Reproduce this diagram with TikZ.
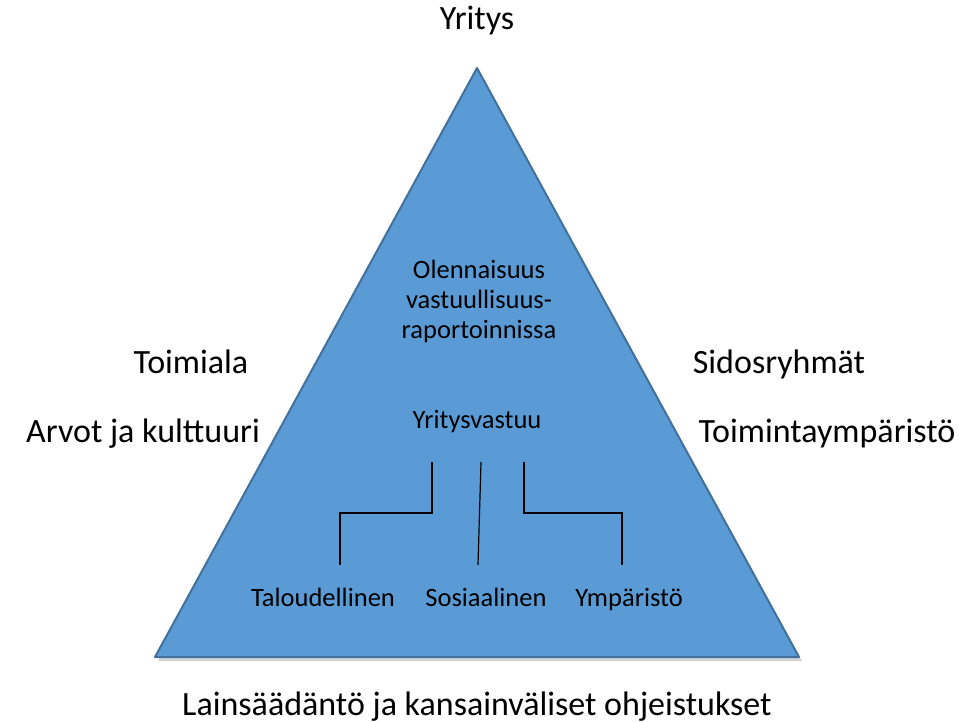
\documentclass[tikz,border=0pt]{standalone}
\usepackage{fontspec}
\setmainfont{Carlito}
\usetikzlibrary{shadows}
\definecolor{tribg}{HTML}{5B9BD5}
\definecolor{triedge}{HTML}{41719C}
\tikzstyle{outer}=[font=\fontsize{34}{40}\selectfont, inner sep=0, anchor=base]
\tikzstyle{inner}=[font=\fontsize{26.5}{30}\selectfont, inner sep=0, align=center]
\tikzstyle{link}=[draw=black, line width=1.2pt]

\begin{document}
\begin{tikzpicture}[x=1pt, y=-1pt]
\useasboundingbox (0,0) rectangle (959,722);
\filldraw[fill=tribg, draw=triedge, line width=2pt, line join=round,
  drop shadow={shadow xshift=3pt, shadow yshift=-4pt, opacity=0.35}]
  (477,68) -- (799,657) -- (155,657) -- cycle;
% labels round the triangle
\node[outer] (top) at (477,30) {Yritys};
\node[outer] (ala) at (191,373) {Toimiala};
\node[outer] (arvot) at (143,442) {Arvot ja kulttuuri};
\node[outer] (sidos) at (779,373) {Sidosryhmät};
\node[outer] (ymp) at (827,442) {Toimintaympäristö};
\node[outer] (laki) at (477,715) {Lainsäädäntö ja kansainväliset ohjeistukset};
% inside
\node[inner] (olen) at (479,301) {Olennaisuus\\vastuullisuus-\\raportoinnissa};
\node[inner, anchor=base] (vastuu) at (477,428) {Yritysvastuu};
\node[inner, anchor=base] (B1) at (323,606) {Taloudellinen};
\node[inner, anchor=base] (B2) at (486,606) {Sosiaalinen};
\node[inner, anchor=base] (B3) at (629,606) {Ympäristö};
\foreach \x/\y/\u in {1/432/340, 2/481/478, 3/524/622}
{
\coordinate (T\x) at (\y,462);
\coordinate (E\x) at (\u,565);
}
\draw[link] (T1) -- ++(0,51) -| (E1);
\draw[link] (T2) -- (E2);
\draw[link] (T3) -- ++(0,51) -| (E3);
\end{tikzpicture}
\end{document}
